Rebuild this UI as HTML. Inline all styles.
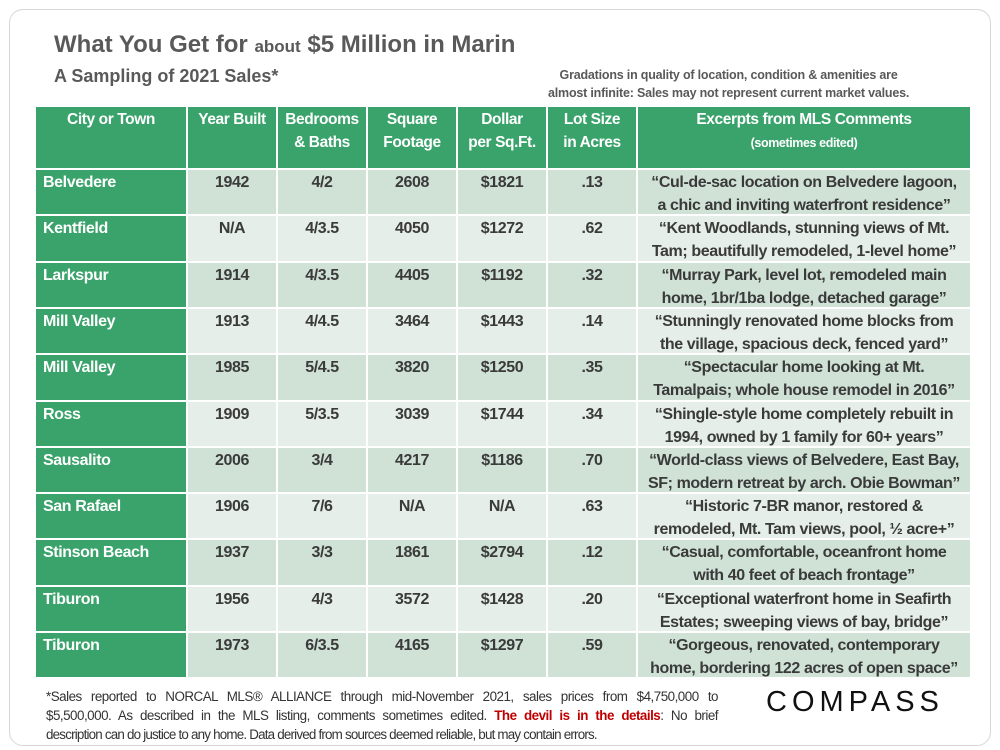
<!DOCTYPE html>
<html><head><meta charset="utf-8"><style>
body{margin:0;width:1000px;height:750px;background:#fff;font-family:"Liberation Sans",sans-serif;position:relative;overflow:hidden}
.frame{position:absolute;left:9px;top:9px;width:980px;height:735px;border:1.5px solid #d6d6d6;border-radius:14px}
.t{position:absolute;color:#595959;font-weight:bold;white-space:nowrap}
.c{position:absolute;box-sizing:border-box;font-weight:bold;font-size:16px;letter-spacing:-0.4px;line-height:23px;text-align:center;color:#3a3a3a;padding-top:1px;white-space:nowrap;overflow:hidden}
.h{background:#3aa36b;color:#fff;font-size:15.5px}
.city{background:#3aa36b;color:#fff;text-align:left;padding-left:7px}
.d{background:#cfe2d5}.l{background:#e5eee8}
.foot{position:absolute;left:46px;top:687px;width:672px;font-size:13.4px;line-height:19px;color:#333;letter-spacing:-0.5px}
.foot div{text-align:justify;text-align-last:justify;white-space:nowrap}
.foot div.last{text-align-last:left}
</style></head><body>
<div class="frame"></div>
<div class="t" style="left:54px;top:31px;font-size:24px">What You Get for <span style="font-size:17px">about</span> $5 Million in Marin</div>
<div class="t" style="left:54px;top:66px;font-size:18px">A Sampling of 2021 Sales*</div>
<div class="t" style="left:548px;top:66px;font-size:12.5px;line-height:18px;text-align:center;letter-spacing:-0.2px">Gradations in quality of location, condition &amp; amenities are<br>almost infinite: Sales may not represent current market values.</div>
<div id="tbl"></div>
<div class="foot"><div>*Sales reported to NORCAL MLS® ALLIANCE through mid-November 2021, sales prices from $4,750,000 to</div><div>$5,500,000. As described in the MLS listing, comments sometimes edited. <span style="color:#c00000;font-weight:bold">The devil is in the details</span>: No brief</div><div class="last" style="letter-spacing:-0.8px">description can do justice to any home. Data derived from sources deemed reliable, but may contain errors.</div></div>
<div class="t" style="left:766px;top:686px;font-size:29px;color:#111;font-weight:normal;letter-spacing:5px">COMPASS</div>
<script>
const headers=["City or Town","Year Built","Bedrooms<br>& Baths","Square<br>Footage","Dollar<br>per Sq.Ft.","Lot Size<br>in Acres","Excerpts from MLS Comments<br><span style='font-size:12.5px'>(sometimes edited)</span>"];
const cities=["Belvedere","Kentfield","Larkspur","Mill Valley","Mill Valley","Ross","Sausalito","San Rafael","Stinson Beach","Tiburon","Tiburon"];
const years=["1942","N/A","1914","1913","1985","1909","2006","1906","1937","1956","1973"];
const beds=["4/2","4/3.5","4/3.5","4/4.5","5/4.5","5/3.5","3/4","7/6","3/3","4/3","6/3.5"];
const sqft=["2608","4050","4405","3464","3820","3039","4217","N/A","1861","3572","4165"];
const dps=["$1821","$1272","$1192","$1443","$1250","$1744","$1186","N/A","$2794","$1428","$1297"];
const lots=[".13",".62",".32",".14",".35",".34",".70",".63",".12",".20",".59"];
const notes=["“Cul-de-sac location on Belvedere lagoon,<br>a chic and inviting waterfront residence”","“Kent Woodlands, stunning views of Mt.<br>Tam; beautifully remodeled, 1-level home”","“Murray Park, level lot, remodeled main<br>home, 1br/1ba lodge, detached garage”","“Stunningly renovated home blocks from<br>the village, spacious deck, fenced yard”","“Spectacular home looking at Mt.<br>Tamalpais; whole house remodel in 2016”","“Shingle-style home completely rebuilt in<br>1994, owned by 1 family for 60+ years”","“World-class views of Belvedere, East Bay,<br>SF; modern retreat by arch. Obie Bowman”","“Historic 7-BR manor, restored &amp;<br>remodeled, Mt. Tam views, pool, ½ acre+”","“Casual, comfortable, oceanfront home<br>with 40 feet of beach frontage”","“Exceptional waterfront home in Seafirth<br>Estates; sweeping views of bay, bridge”","“Gorgeous, renovated, contemporary<br>home, bordering 122 acres of open space”"];
const names=["city","year-built","beds-baths","square-footage","dollar-per-sqft","lot-size","mls-comment"];
const xs=[36,188,278,368,458,548,638,972];
const tbl=document.getElementById('tbl');
function cell(x0,x1,y,h,cls,html,name){const d=document.createElement('div');d.className='c '+cls;
d.style.left=x0+'px';d.style.top=y+'px';d.style.width=(x1-x0)+'px';d.style.height=h+'px';d.innerHTML=html;


tbl.appendChild(d);}
for(let j=0;j<7;j++)cell(xs[j],xs[j+1]-2,107,61,'h',headers[j],'header-'+names[j]);
const rh=46.3;
for(let i=0;i<cities.length;i++){const y=Math.round(170+i*rh),h=Math.round(170+(i+1)*rh)-y-2;
const bg=i%2?'l':'d';const vals=[cities[i],years[i],beds[i],sqft[i],dps[i],lots[i],notes[i]];
for(let j=0;j<7;j++)cell(xs[j],xs[j+1]-2,y,h,j==0?'city':bg,vals[j],'row-'+(i+1)+'-'+names[j]);}
</script>
</body></html>
